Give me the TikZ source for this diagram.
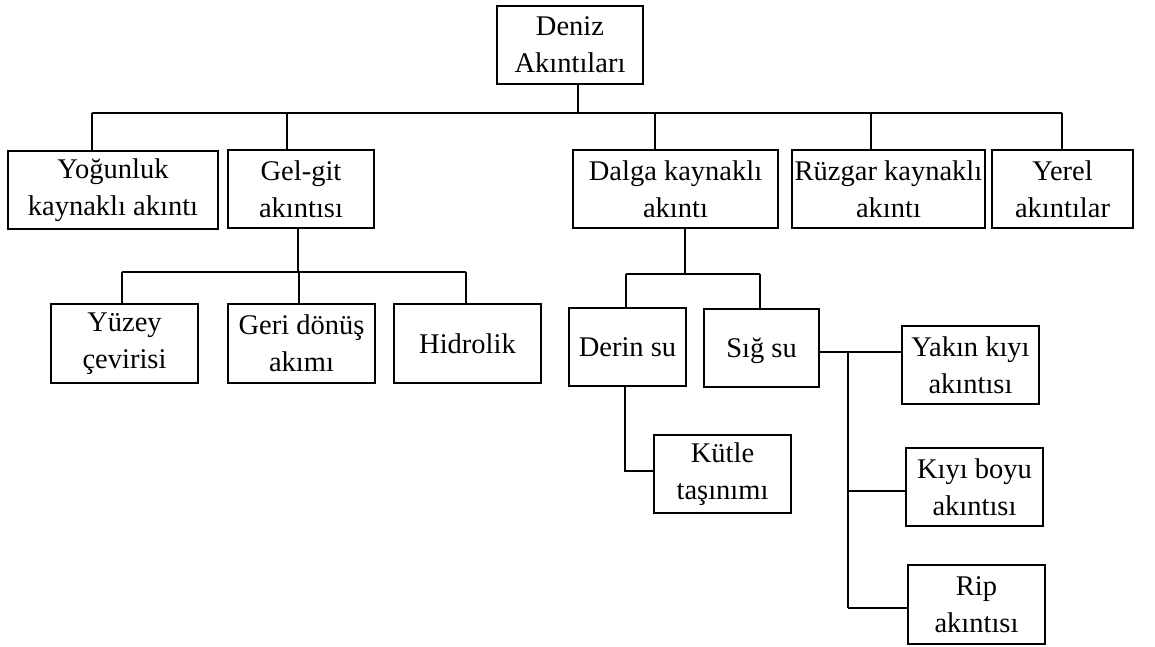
\documentclass[tikz,border=0pt]{standalone}
\usepackage{fontspec}
\setmainfont{Liberation Serif}
\begin{document}
\begin{tikzpicture}[x=1pt,y=-1pt,line width=1.8pt,
  box/.style={draw,rectangle,inner sep=0pt,align=center,font=\fontsize{28.5}{37}\selectfont,minimum height=78pt}]
\useasboundingbox (0,0) rectangle (1155,646);
% nodes
\node[box,minimum width=146pt] (deniz) at (570,45) {Deniz\\Akıntıları};
\node[box,minimum width=210pt] (yog) at (113,190) {Yoğunluk\\kaynaklı akıntı};
\node[box,minimum width=146pt] (gel) at (301,189) {Gel-git\\akıntısı};
\node[box,minimum width=205pt] (dalga) at (675.5,189) {Dalga kaynaklı\\akıntı};
\node[box,minimum width=193pt] (ruz) at (888.5,189) {Rüzgar kaynaklı\\akıntı};
\node[box,minimum width=141pt] (yerel) at (1062.5,189) {Yerel\\akıntılar};
\node[box,minimum width=147pt,minimum height=79pt] (yuzey) at (124.5,343.5) {Yüzey\\çevirisi};
\node[box,minimum width=147pt,minimum height=79pt] (geri) at (301.5,343.5) {Geri dönüş\\akımı};
\node[box,minimum width=147pt,minimum height=79pt] (hid) at (467.5,343.5) {Hidrolik};
\node[box,minimum width=117pt] (derin) at (627.5,347) {Derin su};
\node[box,minimum width=115pt] (sig) at (761.5,348) {\raisebox{0pt}[\height][0pt]{Sığ su}};
\node[box,minimum width=137pt] (yakin) at (970.5,365) {Yakın kıyı\\akıntısı};
\node[box,minimum width=137pt] (kiyi) at (974.5,487) {Kıyı boyu\\akıntısı};
\node[box,minimum width=137pt,minimum height=79pt] (rip) at (976.5,604.5) {Rip\\akıntısı};
\node[box,minimum width=137pt] (kutle) at (722.5,474) {Kütle\\taşınımı};
% level 1 bus
\coordinate (jd) at (578,113);
\coordinate (j1) at (92,113);
\coordinate (j2) at (287,113);
\coordinate (j3) at (655,113);
\coordinate (j4) at (871,113);
\coordinate (j5) at (1062,113);
\draw (jd |- deniz.south) -- (jd);
\draw (j1) -- (j5);
\draw (j1) -- (j1 |- yog.north);
\draw (j2) -- (j2 |- gel.north);
\draw (j3) -- (j3 |- dalga.north);
\draw (j4) -- (j4 |- ruz.north);
\draw (j5) -- (j5 |- yerel.north);
% gel-git sub bus
\coordinate (g0) at (298,272);
\coordinate (g1) at (122,272);
\coordinate (g2) at (299,272);
\coordinate (g3) at (466,272);
\draw (g0 |- gel.south) -- (g0);
\draw (g1) -- (g3);
\draw (g1) -- (g1 |- yuzey.north);
\draw (g2) -- (g2 |- geri.north);
\draw (g3) -- (g3 |- hid.north);
% dalga sub bus
\coordinate (d0) at (685,274);
\coordinate (d1) at (626,274);
\coordinate (d2) at (760,274);
\draw (d0 |- dalga.south) -- (d0);
\draw (d1) -- (d2);
\draw (d1) -- (d1 |- derin.north);
\draw (d2) -- (d2 |- sig.north);
% derin su -> kutle
\coordinate (k0) at (625,471);
\draw (k0 |- derin.south) -- (k0) -- (k0 -| kutle.west);
% sig su branches
\coordinate (s0) at (819,352);
\coordinate (s1) at (848,352);
\coordinate (s2) at (848,491);
\coordinate (s3) at (848,608);
\draw (s0) -- (s0 -| yakin.west);
\draw (s1) -- (s3);
\draw (s2) -- (s2 -| kiyi.west);
\draw (s3) -- (s3 -| rip.west);
\end{tikzpicture}
\end{document}
